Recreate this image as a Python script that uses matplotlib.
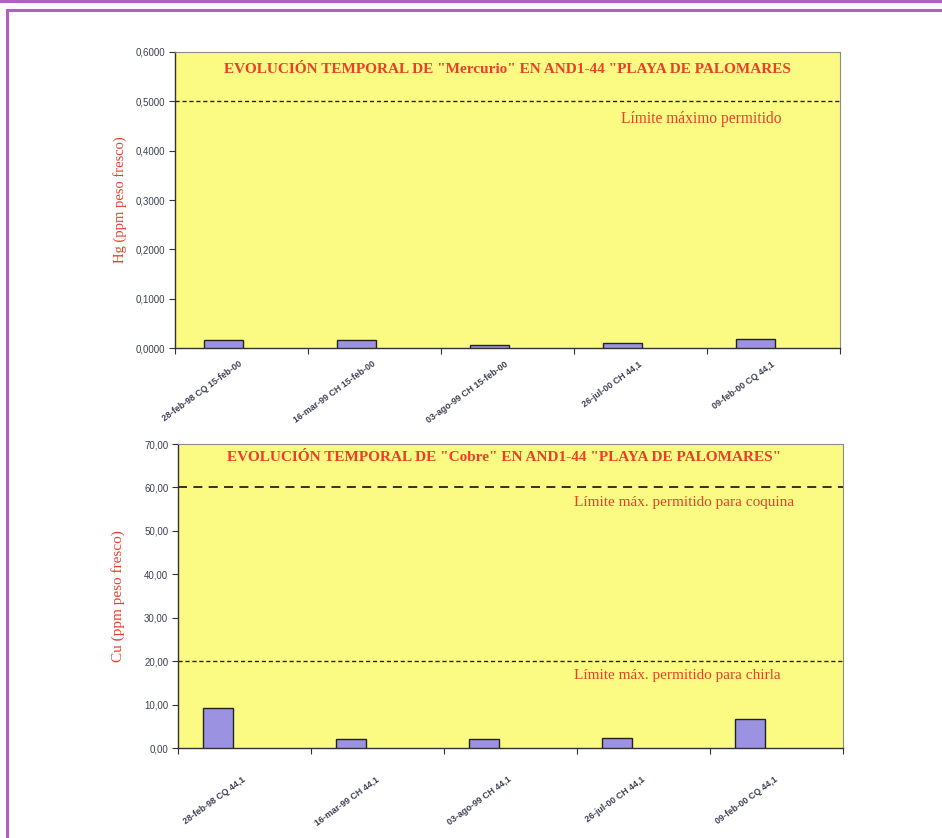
import matplotlib
matplotlib.use("Agg")
import matplotlib.pyplot as plt
from matplotlib.lines import Line2D
from matplotlib.ticker import FuncFormatter

# muestras AND1-44 "Playa de Palomares"
hg_labels = ["28-feb-98 CQ 15-feb-00", "16-mar-99 CH 15-feb-00",
             "03-ago-99 CH 15-feb-00", "26-jul-00 CH 44,1",
             "09-feb-00 CQ 44,1"]
hg_values = [0.016, 0.017, 0.007, 0.010, 0.019]
hg_limit = 0.5

cu_labels = ["28-feb-98 CQ 44,1", "16-mar-99 CH 44,1", "03-ago-99 CH 44,1",
             "26-jul-00 CH 44,1", "09-feb-00 CQ 44,1"]
cu_values = [9.2, 2.1, 2.1, 2.4, 6.6]
cu_limit_coquina = 60
cu_limit_chirla = 20

RED = "#e8402a"
YELLOW = "#fbfb84"
BAR = "#9c92e2"
TICK = "#3c4052"
SERIF = "Liberation Serif"
SANS = "Liberation Sans"

fig = plt.figure(figsize=(9.42, 8.38), dpi=100)

# marco morado de la página
fig.add_artist(Line2D([7 / 942, 1], [1 - 10 / 838] * 2, color="#b060c0", lw=2.2,
                      transform=fig.transFigure))
fig.add_artist(Line2D([7 / 942] * 2, [0, 1 - 10 / 838], color="#b060c0", lw=2.2,
                      transform=fig.transFigure))
fig.add_artist(Line2D([0, 1], [1 - 1.5 / 838] * 2, color="#b060c0", lw=2.2,
                      transform=fig.transFigure))


def setup(ax, labels, ymax, ystep, fmt, xpad):
    n = len(labels)
    ax.set_facecolor(YELLOW)
    ax.set_xlim(0, n)
    ax.set_ylim(0, ymax)
    ax.set_xticks(range(n + 1))
    ax.set_xticklabels([])
    ax.set_xticks([i + 0.5 for i in range(n)], minor=True)
    ax.set_xticklabels(labels, minor=True, rotation=36, ha="right",
                       va="center", rotation_mode="anchor",
                       fontsize=6.4, fontfamily=SANS, fontweight="bold",
                       color=TICK)
    ax.tick_params(axis="x", which="minor", length=0, pad=xpad)
    ax.tick_params(axis="x", which="major", length=4, direction="out",
                   color="#333333")
    yt = [ystep * k for k in range(int(round(ymax / ystep)) + 1)]
    ax.set_yticks(yt)
    ax.yaxis.set_major_formatter(FuncFormatter(
        lambda v, p: (fmt % v).replace(".", ",")))
    ax.tick_params(axis="y", length=4, direction="out", color="#333333",
                   labelsize=7, labelcolor=TICK, pad=3)
    for t in ax.get_yticklabels():
        t.set_fontfamily(SANS)
    for s in ("left", "bottom"):
        ax.spines[s].set_color("#333333")
        ax.spines[s].set_linewidth(1.0)
    for s in ("top", "right"):
        ax.spines[s].set_color("#8a8a8a")
        ax.spines[s].set_linewidth(0.8)


# Mercurio
ax1 = fig.add_axes([175 / 942, 1 - 348 / 838, 665 / 942, 296 / 838])
setup(ax1, hg_labels, 0.6, 0.1, "%.4f", 11)
x1 = [i + 0.5 - 0.135 for i in range(len(hg_values))]
ax1.bar(x1, hg_values, width=0.29, color=BAR, edgecolor="#222222",
        linewidth=1.0, zorder=3)
ax1.axhline(hg_limit, color="#222222", lw=1.0, ls=(0, (3, 2)), zorder=2)
ax1.text(3.35, 0.465, "Límite máximo permitido", color=RED, fontsize=11.2,
         fontfamily=SERIF, va="center", ha="left")
ax1.text(2.5, 0.565,
         'EVOLUCIÓN TEMPORAL DE "Mercurio" EN AND1-44 "PLAYA DE PALOMARES',
         color=RED, fontsize=11, fontweight="bold", fontfamily=SERIF,
         ha="center", va="center")
ax1.set_ylabel("Hg (ppm peso fresco)", color=RED, fontsize=10.5,
               fontfamily=SERIF, labelpad=6)

# Cobre
ax2 = fig.add_axes([178 / 942, 1 - 748 / 838, 665 / 942, 304 / 838])
setup(ax2, cu_labels, 70, 10, "%.2f", 22)
x2 = [i + 0.5 - 0.2 for i in range(len(cu_values))]
ax2.bar(x2, cu_values, width=0.22, color=BAR, edgecolor="#222222",
        linewidth=1.0, zorder=3)
ax2.axhline(cu_limit_coquina, color="#222222", lw=1.3, ls=(0, (5, 3.5)),
            zorder=2)
ax2.axhline(cu_limit_chirla, color="#222222", lw=1.0, ls=(0, (3, 2)),
            zorder=2)
ax2.text(2.98, 56.6, "Límite máx. permitido para coquina", color=RED,
         fontsize=11, fontfamily=SERIF, va="center", ha="left")
ax2.text(2.98, 16.6, "Límite máx. permitido para chirla", color=RED,
         fontsize=11, fontfamily=SERIF, va="center", ha="left")
ax2.text(2.45, 67.0,
         'EVOLUCIÓN TEMPORAL DE "Cobre" EN AND1-44 "PLAYA DE PALOMARES"',
         color=RED, fontsize=11, fontweight="bold", fontfamily=SERIF,
         ha="center", va="center")
ax2.set_ylabel("Cu (ppm peso fresco)", color=RED, fontsize=11,
               fontfamily=SERIF, labelpad=14)

fig.savefig("out.png", dpi=100)
